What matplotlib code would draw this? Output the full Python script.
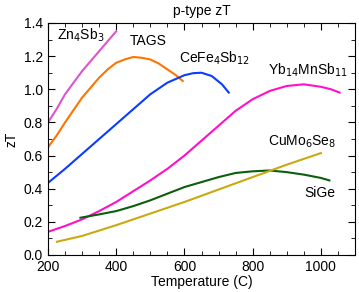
import matplotlib.pyplot as plt
from matplotlib.ticker import MultipleLocator

plt.rcParams["font.family"] = ["Liberation Sans", "DejaVu Sans"]

# Data
zn_T = [200, 225, 250, 275, 300, 325, 350, 375, 400]
zn_zT = [0.80, 0.88, 0.97, 1.04, 1.11, 1.17, 1.23, 1.29, 1.35]

tags_T = [200, 225, 250, 275, 300, 325, 350, 375, 400, 425, 450, 475, 500, 525, 550, 575, 595]
tags_zT = [0.65, 0.72, 0.80, 0.875, 0.95, 1.01, 1.07, 1.12, 1.16, 1.18, 1.195, 1.19, 1.18, 1.155, 1.12, 1.085, 1.05]

ce_T = [200, 250, 300, 350, 400, 450, 500, 550, 600, 625, 650, 680, 710, 730]
ce_zT = [0.435, 0.52, 0.61, 0.70, 0.79, 0.88, 0.97, 1.04, 1.085, 1.097, 1.10, 1.08, 1.03, 0.98]

yb_T = [200, 250, 300, 350, 400, 450, 500, 550, 600, 650, 700, 750, 800, 850, 900, 950, 1000, 1030, 1055]
yb_zT = [0.14, 0.175, 0.215, 0.265, 0.32, 0.385, 0.45, 0.52, 0.60, 0.69, 0.78, 0.87, 0.94, 0.99, 1.02, 1.03, 1.015, 1.0, 0.98]

sige_T = [295, 350, 400, 450, 500, 550, 600, 650, 700, 750, 800, 850, 900, 950, 1000, 1025]
sige_zT = [0.225, 0.245, 0.265, 0.295, 0.33, 0.37, 0.41, 0.44, 0.47, 0.495, 0.505, 0.51, 0.50, 0.485, 0.465, 0.45]

cu_T = [226, 300, 400, 500, 600, 700, 800, 900, 1000]
cu_zT = [0.08, 0.115, 0.18, 0.25, 0.32, 0.395, 0.47, 0.545, 0.615]

fig = plt.figure(figsize=(3.59, 2.92), dpi=100)
ax = fig.add_axes([48 / 359, 37 / 292, 307 / 359, 232 / 292])

ax.plot(zn_T, zn_zT, color="#dd55cc", lw=1.5)
ax.plot(tags_T, tags_zT, color="#ff7400", lw=1.5)
ax.plot(ce_T, ce_zT, color="#0a3cff", lw=1.5)
ax.plot(yb_T, yb_zT, color="#ff10c8", lw=1.5)
ax.plot(sige_T, sige_zT, color="#0b5e0b", lw=1.5)
ax.plot(cu_T, cu_zT, color="#c8aa10", lw=1.5)

ax.set_xlim(200, 1100)
ax.set_ylim(0, 1.4)
ax.xaxis.set_major_locator(MultipleLocator(200))
ax.xaxis.set_minor_locator(MultipleLocator(50))
ax.yaxis.set_major_locator(MultipleLocator(0.2))
ax.yaxis.set_minor_locator(MultipleLocator(0.1))
ax.yaxis.set_major_formatter(plt.FormatStrFormatter("%.1f"))
ax.tick_params(which="both", direction="in", top=True, right=True, labelsize=10)
ax.tick_params(which="major", length=5)
ax.tick_params(which="minor", length=3)

ax.set_title("p-type zT", fontsize=10, pad=6)
ax.set_xlabel("Temperature (C)", fontsize=10, labelpad=1)
ax.set_ylabel("zT", fontsize=10, labelpad=4)

ax.text(225, 1.30, "Zn$_4$Sb$_3$", fontsize=10)
ax.text(440, 1.27, "TAGS", fontsize=10)
ax.text(585, 1.16, "CeFe$_4$Sb$_{12}$", fontsize=10)
ax.text(845, 1.09, "Yb$_{14}$MnSb$_{11}$", fontsize=10)
ax.text(845, 0.66, "CuMo$_6$Se$_8$", fontsize=10)
ax.text(950, 0.35, "SiGe", fontsize=10)

fig.savefig("out.png", dpi=100)
